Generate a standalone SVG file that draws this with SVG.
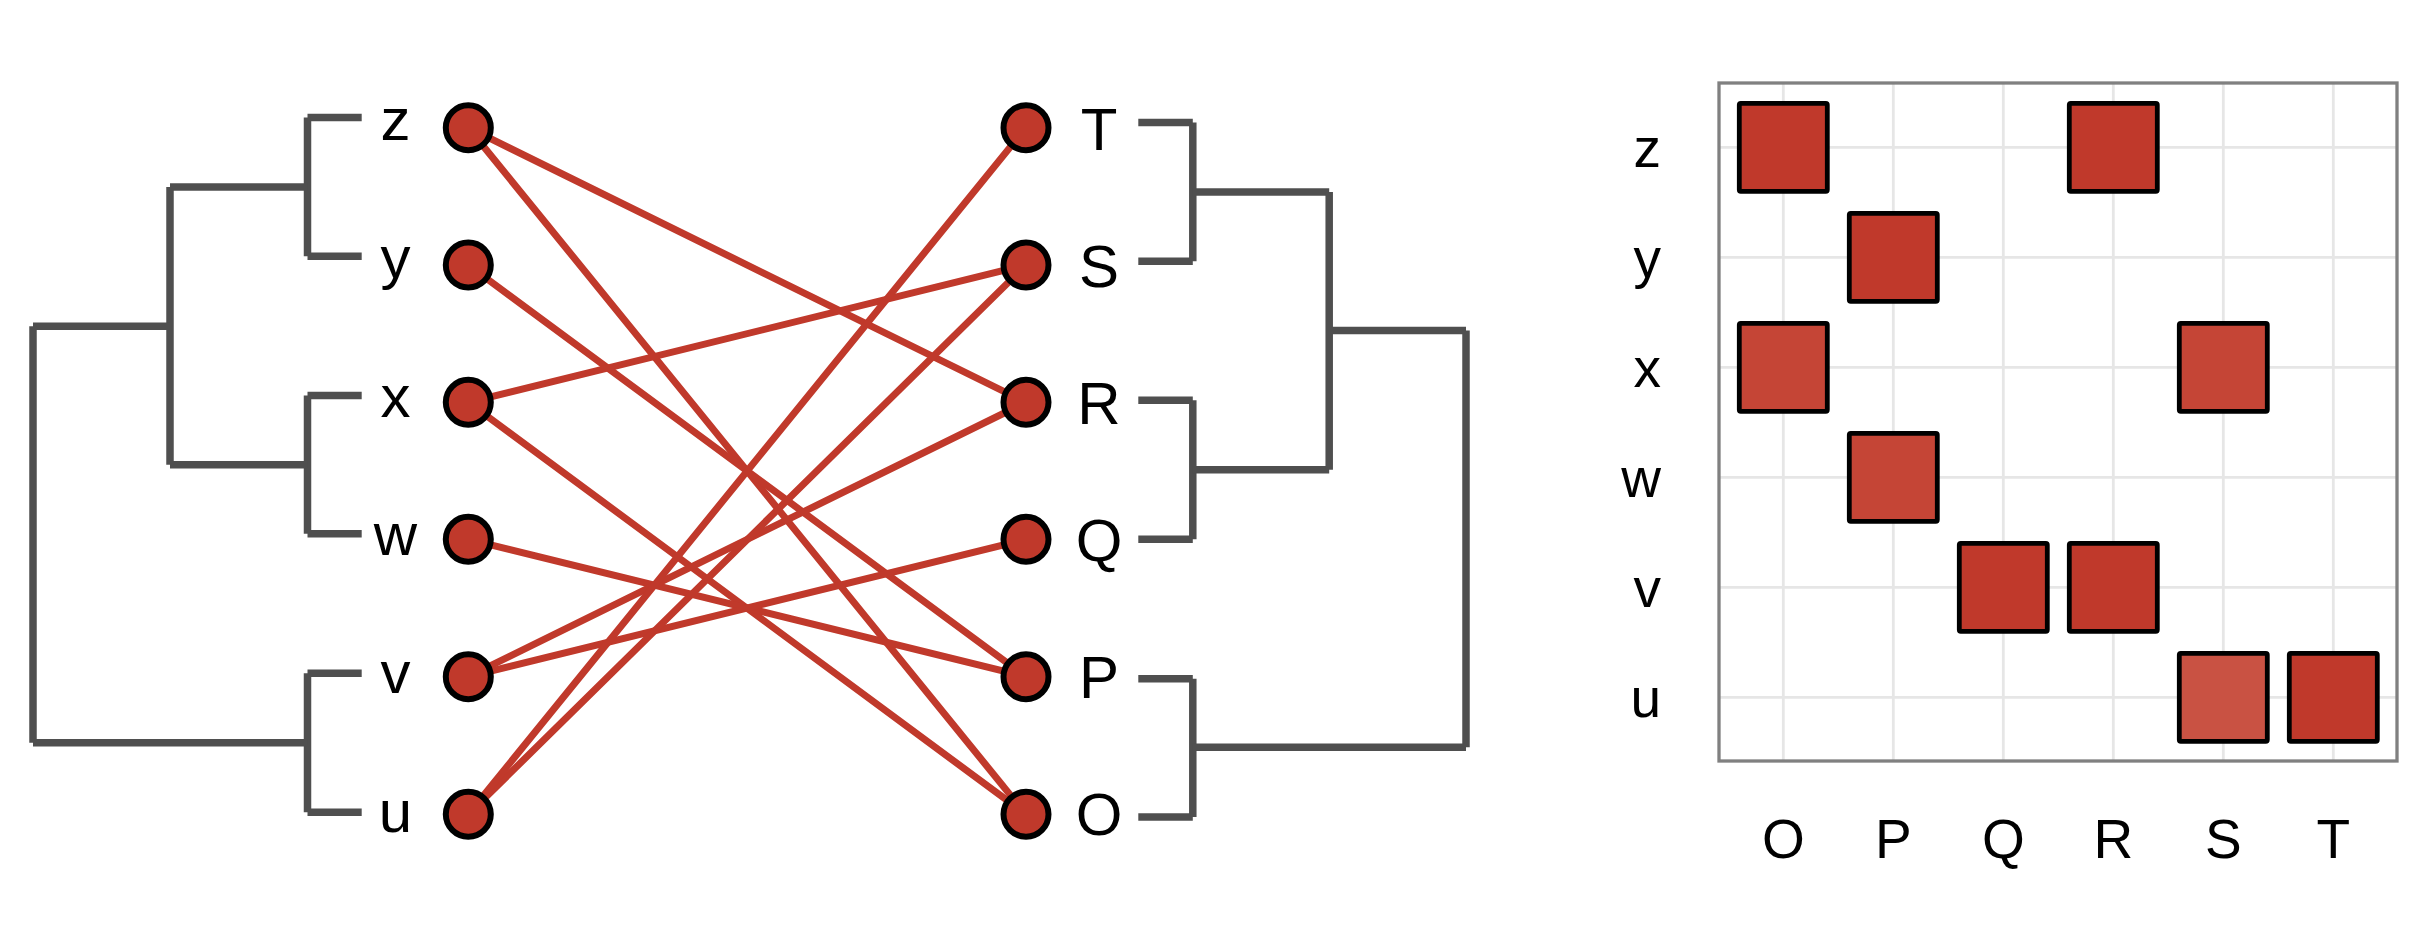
<svg xmlns="http://www.w3.org/2000/svg" width="2415" height="943" viewBox="0 0 2415 943">
<style>
.bg{fill:#ffffff}
.dend line{stroke:#4f4f4f;stroke-width:7.5;stroke-linecap:butt}
.edge{stroke:#c0392b;stroke-width:7;stroke-linecap:round}
.node circle{fill:#c0392b;stroke:#000000;stroke-width:6}
.lbl{font-family:"Liberation Sans",Arial,Helvetica,sans-serif;font-size:60px;fill:#000000;text-anchor:middle}
.mlbl{font-family:"Liberation Sans",Arial,Helvetica,sans-serif;font-size:55px;fill:#000000}
.grid line{stroke:#e6e6e6;stroke-width:2.8}
.panel{fill:none;stroke:#808080;stroke-width:3.3}
.cell{stroke:#000000;stroke-width:4.8}
</style>
<rect class="bg" x="0" y="0" width="2415" height="943"/>

<g id="dendrogram-left" class="dend">
  <line x1="307.5" y1="117.5" x2="361.7" y2="117.5"/>
  <line x1="307.5" y1="256.3" x2="361.7" y2="256.3"/>
  <line x1="307.5" y1="395.5" x2="361.7" y2="395.5"/>
  <line x1="307.5" y1="533.8" x2="361.7" y2="533.8"/>
  <line x1="307.5" y1="673.3" x2="361.7" y2="673.3"/>
  <line x1="307.5" y1="812.2" x2="361.7" y2="812.2"/>
  <line x1="307.5" y1="117.5" x2="307.5" y2="256.3"/>
  <line x1="307.5" y1="395.5" x2="307.5" y2="533.8"/>
  <line x1="307.5" y1="673.3" x2="307.5" y2="812.2"/>
  <line x1="170" y1="187" x2="307.5" y2="187"/>
  <line x1="170" y1="464.7" x2="307.5" y2="464.7"/>
  <line x1="33" y1="742.8" x2="307.5" y2="742.8"/>
  <line x1="170" y1="187" x2="170" y2="464.7"/>
  <line x1="33" y1="326.2" x2="170" y2="326.2"/>
  <line x1="33" y1="326.2" x2="33" y2="742.8"/>
</g>

<g id="dendrogram-right" class="dend">
  <line x1="1138.3" y1="122.5" x2="1192.8" y2="122.5"/>
  <line x1="1138.3" y1="261.2" x2="1192.8" y2="261.2"/>
  <line x1="1138.3" y1="400.3" x2="1192.8" y2="400.3"/>
  <line x1="1138.3" y1="539.2" x2="1192.8" y2="539.2"/>
  <line x1="1138.3" y1="678.7" x2="1192.8" y2="678.7"/>
  <line x1="1138.3" y1="817" x2="1192.8" y2="817"/>
  <line x1="1192.8" y1="122.5" x2="1192.8" y2="261.2"/>
  <line x1="1192.8" y1="400.3" x2="1192.8" y2="539.2"/>
  <line x1="1192.8" y1="678.7" x2="1192.8" y2="817"/>
  <line x1="1192.8" y1="192" x2="1329.2" y2="192"/>
  <line x1="1192.8" y1="469.7" x2="1329.2" y2="469.7"/>
  <line x1="1192.8" y1="747.2" x2="1466" y2="747.2"/>
  <line x1="1329.2" y1="192" x2="1329.2" y2="469.7"/>
  <line x1="1329.2" y1="330.5" x2="1466" y2="330.5"/>
  <line x1="1466" y1="330.5" x2="1466" y2="747.2"/>
</g>

<g id="connectors">
  <line class="edge" x1="468.3" y1="127.7" x2="1026" y2="402.3"/>
  <line class="edge" x1="468.3" y1="127.7" x2="1026" y2="814.3"/>
  <line class="edge" x1="468.3" y1="265" x2="1026" y2="676.7"/>
  <line class="edge" x1="468.3" y1="402.3" x2="1026" y2="265"/>
  <line class="edge" x1="468.3" y1="402.3" x2="1026" y2="814.3"/>
  <line class="edge" x1="468.3" y1="539.3" x2="1026" y2="676.7"/>
  <line class="edge" x1="468.3" y1="676.7" x2="1026" y2="402.3"/>
  <line class="edge" x1="468.3" y1="676.7" x2="1026" y2="539.3"/>
  <line class="edge" x1="468.3" y1="814.3" x2="1026" y2="265"/>
  <line class="edge" x1="468.3" y1="814.3" x2="1026" y2="127.7"/>
</g>

<g id="node-z" class="node"><circle cx="468.3" cy="127.7" r="22.5"/><text class="lbl" x="395.5" y="140">z</text></g>
<g id="node-y" class="node"><circle cx="468.3" cy="265" r="22.5"/><text class="lbl" x="395.5" y="278.3">y</text></g>
<g id="node-x" class="node"><circle cx="468.3" cy="402.3" r="22.5"/><text class="lbl" x="395.5" y="416.7">x</text></g>
<g id="node-w" class="node"><circle cx="468.3" cy="539.3" r="22.5"/><text class="lbl" x="395.5" y="555">w</text></g>
<g id="node-v" class="node"><circle cx="468.3" cy="676.7" r="22.5"/><text class="lbl" x="395.5" y="693.3">v</text></g>
<g id="node-u" class="node"><circle cx="468.3" cy="814.3" r="22.5"/><text class="lbl" x="395.5" y="831.7">u</text></g>

<g id="node-T" class="node"><circle cx="1026" cy="127.7" r="22.5"/><text class="lbl" x="1099" y="150">T</text></g>
<g id="node-S" class="node"><circle cx="1026" cy="265" r="22.5"/><text class="lbl" x="1099" y="287">S</text></g>
<g id="node-R" class="node"><circle cx="1026" cy="402.3" r="22.5"/><text class="lbl" x="1099" y="424">R</text></g>
<g id="node-Q" class="node"><circle cx="1026" cy="539.3" r="22.5"/><text class="lbl" x="1099" y="561">Q</text></g>
<g id="node-P" class="node"><circle cx="1026" cy="676.7" r="22.5"/><text class="lbl" x="1099" y="698.3">P</text></g>
<g id="node-O" class="node"><circle cx="1026" cy="814.3" r="22.5"/><text class="lbl" x="1099" y="835">O</text></g>

<g id="matrix">
  <g class="grid">
    <line x1="1783.3" y1="83" x2="1783.3" y2="761"/>
    <line x1="1893.3" y1="83" x2="1893.3" y2="761"/>
    <line x1="2003.3" y1="83" x2="2003.3" y2="761"/>
    <line x1="2113.3" y1="83" x2="2113.3" y2="761"/>
    <line x1="2223.3" y1="83" x2="2223.3" y2="761"/>
    <line x1="2333.3" y1="83" x2="2333.3" y2="761"/>
    <line x1="1719" y1="147.3" x2="2397" y2="147.3"/>
    <line x1="1719" y1="257.3" x2="2397" y2="257.3"/>
    <line x1="1719" y1="367.3" x2="2397" y2="367.3"/>
    <line x1="1719" y1="477.3" x2="2397" y2="477.3"/>
    <line x1="1719" y1="587.3" x2="2397" y2="587.3"/>
    <line x1="1719" y1="697.3" x2="2397" y2="697.3"/>
  </g>
  <rect class="panel" x="1719" y="83" width="678" height="678"/>
  <g id="cells">
    <rect class="cell" x="1739.3" y="103.3" width="88" height="88" rx="1.5" fill="#c0392b"/>
    <rect class="cell" x="2069.3" y="103.3" width="88" height="88" rx="1.5" fill="#c0392b"/>
    <rect class="cell" x="1849.3" y="213.3" width="88" height="88" rx="1.5" fill="#c0392b"/>
    <rect class="cell" x="1739.3" y="323.3" width="88" height="88" rx="1.5" fill="#c54536"/>
    <rect class="cell" x="2179.3" y="323.3" width="88" height="88" rx="1.5" fill="#c54536"/>
    <rect class="cell" x="1849.3" y="433.3" width="88" height="88" rx="1.5" fill="#c54536"/>
    <rect class="cell" x="1959.3" y="543.3" width="88" height="88" rx="1.5" fill="#c0392b"/>
    <rect class="cell" x="2069.3" y="543.3" width="88" height="88" rx="1.5" fill="#c0392b"/>
    <rect class="cell" x="2179.3" y="653.3" width="88" height="88" rx="1.5" fill="#c95243"/>
    <rect class="cell" x="2289.3" y="653.3" width="88" height="88" rx="1.5" fill="#c0392b"/>
  </g>
  <g id="row-labels" class="mlbl" text-anchor="end">
    <text x="1661" y="166.7">z</text>
    <text x="1661" y="276.7">y</text>
    <text x="1661" y="386.7">x</text>
    <text x="1661" y="496.7">w</text>
    <text x="1661" y="606.7">v</text>
    <text x="1661" y="716.7">u</text>
  </g>
  <g id="col-labels" class="mlbl" text-anchor="middle">
    <text x="1783.3" y="858.3">O</text>
    <text x="1893.3" y="858.3">P</text>
    <text x="2003.3" y="858.3">Q</text>
    <text x="2113.3" y="858.3">R</text>
    <text x="2223.3" y="858.3">S</text>
    <text x="2333.3" y="858.3">T</text>
  </g>
</g>
</svg>
